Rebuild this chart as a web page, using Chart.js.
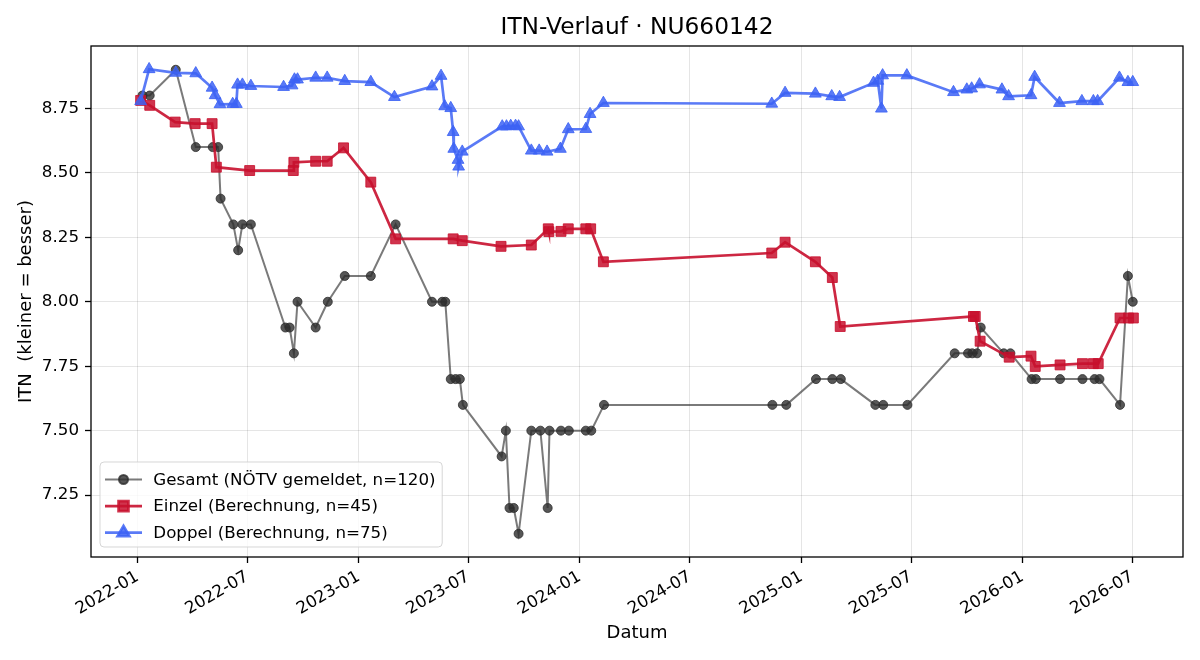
<!DOCTYPE html>
<html lang="de">
<head>
<meta charset="utf-8">
<title>ITN-Verlauf</title>
<script src="https://cdn.jsdelivr.net/npm/chart.js@4.4.1/dist/chart.umd.min.js"></script>
<style>
  html, body { margin: 0; padding: 0; background: #fff; }
  #wrap { width: 1200px; height: 660px; }
</style>
</head>
<body>
<div id="wrap"><canvas id="grafico" width="1200" height="660"></canvas></div>
<script>
// Werte
const gesamtDatum = ['2022-01-09','2022-01-21','2022-03-05','2022-04-07','2022-05-05','2022-05-14','2022-05-18','2022-06-08','2022-06-16','2022-06-23','2022-07-07','2022-09-02','2022-09-09','2022-09-16','2022-09-22','2022-10-22','2022-11-11','2022-12-09','2023-01-21','2023-03-03','2023-05-02','2023-05-19','2023-05-24','2023-06-02','2023-06-10','2023-06-17','2023-06-22','2023-08-25','2023-09-01','2023-09-07','2023-09-14','2023-09-22','2023-10-13','2023-10-28','2023-11-09','2023-11-12','2023-12-01','2023-12-14','2024-01-11','2024-01-20','2024-02-10','2024-11-14','2024-12-07','2025-01-25','2025-02-21','2025-03-07','2025-05-03','2025-05-16','2025-06-25','2025-09-11','2025-10-03','2025-10-10','2025-10-18','2025-10-24','2025-12-01','2025-12-12','2026-01-16','2026-01-23','2026-03-04','2026-04-10','2026-04-30','2026-05-08','2026-06-11','2026-06-24','2026-07-02'];
const gesamtITN = [8.8,8.8,8.9,8.6,8.6,8.6,8.4,8.3,8.2,8.3,8.3,7.9,7.9,7.8,8.0,7.9,8.0,8.1,8.1,8.3,8.0,8.0,8.0,7.7,7.7,7.7,7.6,7.4,7.5,7.2,7.2,7.1,7.5,7.5,7.2,7.5,7.5,7.5,7.5,7.5,7.6,7.6,7.6,7.7,7.7,7.7,7.6,7.6,7.6,7.8,7.8,7.8,7.8,7.9,7.8,7.8,7.7,7.7,7.7,7.7,7.7,7.7,7.6,8.1,8.0];

const einzelDatum = ['2022-01-06','2022-01-21','2022-03-04','2022-04-06','2022-05-04','2022-05-11','2022-07-05','2022-09-15','2022-09-16','2022-10-22','2022-11-10','2022-12-07','2023-01-21','2023-03-03','2023-06-06','2023-06-21','2023-08-24','2023-10-13','2023-11-10','2023-11-11','2023-12-01','2023-12-13','2024-01-11','2024-01-19','2024-02-09','2024-11-13','2024-12-05','2025-01-24','2025-02-21','2025-03-06','2025-10-12','2025-10-15','2025-10-23','2025-12-10','2026-01-15','2026-01-22','2026-03-04','2026-04-10','2026-04-28','2026-05-06','2026-06-11','2026-06-25','2026-07-03'];
const einzelITN = [8.781,8.762,8.697,8.691,8.691,8.522,8.509,8.509,8.541,8.545,8.545,8.597,8.464,8.244,8.244,8.237,8.215,8.220,8.283,8.272,8.273,8.283,8.283,8.283,8.155,8.189,8.231,8.155,8.094,7.904,7.943,7.943,7.847,7.785,7.789,7.749,7.755,7.760,7.760,7.760,7.937,7.937,7.937];

const doppelDatum = ['2022-01-06','2022-01-20','2022-03-05','2022-04-07','2022-05-04','2022-05-09','2022-05-17','2022-06-07','2022-06-13','2022-06-15','2022-06-23','2022-07-07','2022-08-30','2022-09-13','2022-09-17','2022-09-22','2022-10-22','2022-11-10','2022-12-09','2023-01-21','2023-03-01','2023-05-02','2023-05-17','2023-05-23','2023-06-02','2023-06-06','2023-06-07','2023-06-14','2023-06-15','2023-06-21','2023-08-26','2023-09-02','2023-09-09','2023-09-17','2023-09-22','2023-10-13','2023-10-26','2023-11-08','2023-11-30','2023-12-13','2024-01-11','2024-01-18','2024-02-09','2024-11-13','2024-12-05','2025-01-24','2025-02-20','2025-03-05','2025-04-30','2025-05-07','2025-05-13','2025-05-15','2025-06-24','2025-09-09','2025-10-01','2025-10-09','2025-10-22','2025-11-28','2025-12-09','2026-01-15','2026-01-21','2026-03-03','2026-04-09','2026-04-28','2026-05-05','2026-06-10','2026-06-24','2026-07-02'];
const doppelITN = [8.778,8.902,8.888,8.886,8.830,8.801,8.766,8.767,8.767,8.842,8.842,8.837,8.833,8.839,8.862,8.862,8.869,8.869,8.856,8.852,8.794,8.835,8.876,8.758,8.751,8.658,8.593,8.550,8.524,8.582,8.680,8.680,8.682,8.682,8.680,8.586,8.586,8.582,8.593,8.669,8.670,8.728,8.771,8.768,8.810,8.807,8.797,8.794,8.849,8.857,8.749,8.878,8.878,8.813,8.823,8.827,8.843,8.823,8.797,8.801,8.872,8.771,8.778,8.778,8.778,8.869,8.852,8.852];

const xTickDaten = ['2022-01-01','2022-07-01','2023-01-01','2023-07-01','2024-01-01','2024-07-01','2025-01-01','2025-07-01','2026-01-01','2026-07-01'];
const yTicks = [7.25, 7.50, 7.75, 8.00, 8.25, 8.50, 8.75];

const titel = 'ITN-Verlauf · NU660142';
const schrift = 'DejaVu Sans';

function punkte(daten, werte) {
  return daten.map((d, i) => ({ x: Date.parse(d), y: werte[i] }));
}

// Achsenbereich wie matplotlib: 5% Rand
const alleX = [...gesamtDatum, ...einzelDatum, ...doppelDatum].map(d => Date.parse(d));
const alleY = [...gesamtITN, ...einzelITN, ...doppelITN];
const xMin = Math.min(...alleX), xMax = Math.max(...alleX);
const yMin = Math.min(...alleY), yMax = Math.max(...alleY);
const xRand = (xMax - xMin) * 0.05, yRand = (yMax - yMin) * 0.05;

// Titel mittig über der Zeichenfläche
const titelPlugin = {
  id: 'titelPlugin',
  afterDraw(chart) {
    const ctx = chart.ctx;
    const ca = chart.chartArea;
    ctx.save();
    ctx.font = '23.3px ' + schrift;
    ctx.fillStyle = '#000';
    ctx.textAlign = 'center';
    ctx.textBaseline = 'middle';
    ctx.fillText(titel, (ca.left + ca.right) / 2, 28);
    ctx.restore();
  }
};

// Legende innerhalb der Grafik unten links
const legendeImDiagramm = {
  id: 'legendeImDiagramm',
  afterDraw(chart) {
    const ctx = chart.ctx;
    const ca = chart.chartArea;
    const sets = chart.data.datasets;
    ctx.save();
    ctx.font = '16.7px ' + schrift;
    let breite = 0;
    sets.forEach(s => { breite = Math.max(breite, ctx.measureText(s.label).width); });
    const bx = ca.left + 9, hoehe = 85;
    const by = ca.bottom - 10 - hoehe;
    const bw = 53 + breite + 7;
    ctx.beginPath();
    ctx.roundRect(bx, by, bw, hoehe, 4);
    ctx.fillStyle = 'rgba(255,255,255,0.8)';
    ctx.fill();
    ctx.strokeStyle = 'rgba(204,204,204,0.8)';
    ctx.lineWidth = 1;
    ctx.stroke();
    sets.forEach((s, i) => {
      const y = by + 17.5 + i * 26.6;
      ctx.beginPath();
      ctx.moveTo(bx + 5, y);
      ctx.lineTo(bx + 42, y);
      ctx.strokeStyle = s.borderColor;
      ctx.lineWidth = s.borderWidth;
      ctx.stroke();
      ctx.fillStyle = s.pointBackgroundColor;
      ctx.strokeStyle = s.pointBorderColor;
      Chart.helpers.drawPoint(ctx, { pointStyle: s.pointStyle, radius: s.pointRadius, rotation: 0, borderWidth: s.pointBorderWidth }, bx + 23.5, y);
      ctx.fillStyle = '#000';
      ctx.textBaseline = 'middle';
      ctx.textAlign = 'left';
      ctx.fillText(s.label, bx + 53.3, y + 1);
    });
    ctx.restore();
  }
};

// Rahmen um die Zeichenfläche
const rahmen = {
  id: 'rahmen',
  afterDatasetsDraw(chart) {
    const ca = chart.chartArea;
    const ctx = chart.ctx;
    ctx.save();
    ctx.strokeStyle = '#000';
    ctx.lineWidth = 1.3;
    ctx.strokeRect(ca.left, ca.top, ca.right - ca.left, ca.bottom - ca.top);
    ctx.restore();
  }
};

const data = {
  datasets: [{
    label: 'Gesamt (NÖTV gemeldet, n=120)',
    data: punkte(gesamtDatum, gesamtITN),
    borderColor: 'rgba(51,51,51,0.65)',
    borderWidth: 2,
    pointStyle: 'circle',
    pointRadius: 4.5,
    pointBackgroundColor: 'rgba(45,45,45,0.8)',
    pointBorderColor: 'rgba(45,45,45,0.8)',
    pointBorderWidth: 1,
    order: 2
  }, {
    label: 'Einzel (Berechnung, n=45)',
    data: punkte(einzelDatum, einzelITN),
    borderColor: 'rgba(200,16,46,0.9)',
    borderWidth: 2.7,
    pointStyle: 'rect',
    pointRadius: 7,
    pointBackgroundColor: 'rgba(200,16,46,0.85)',
    pointBorderColor: 'rgba(200,16,46,0.85)',
    pointBorderWidth: 1,
    order: 1
  }, {
    label: 'Doppel (Berechnung, n=75)',
    data: punkte(doppelDatum, doppelITN),
    borderColor: 'rgba(61,99,245,0.85)',
    borderWidth: 2.7,
    pointStyle: 'triangle',
    pointRadius: 6.8,
    pointBackgroundColor: 'rgba(61,99,245,0.85)',
    pointBorderColor: 'rgba(61,99,245,0.85)',
    pointBorderWidth: 1,
    order: 0
  }]
};

const config = {
  type: 'line',
  data: data,
  options: {
    responsive: false,
    animation: false,
    events: [],
    layout: { padding: { left: 0, right: 17, top: 46, bottom: 0 } },
    plugins: {
      legend: { display: false },
      tooltip: { enabled: false },
      title: { display: false }
    },
    elements: { line: { tension: 0 } },
    scales: {
      x: {
        type: 'linear',
        min: xMin - xRand,
        max: xMax + xRand,
        afterBuildTicks: (scale) => { scale.ticks = xTickDaten.map(d => ({ value: Date.parse(d) })); },
        afterFit: (scale) => { scale.height = 103; },
        ticks: {
          color: '#000',
          font: { family: schrift, size: 16.7 },
          minRotation: 30,
          maxRotation: 30,
          padding: 4,
          callback: (v) => new Date(v).toISOString().slice(0, 7)
        },
        grid: { color: 'rgba(0,0,0,0.1)', tickColor: '#000', tickLength: 6, tickWidth: 1.3 },
        border: { display: false },
        title: {
          display: true,
          text: 'Datum',
          color: '#000',
          font: { family: schrift, size: 18 },
          padding: { top: 0, bottom: 16 }
        }
      },
      y: {
        type: 'linear',
        min: yMin - yRand,
        max: yMax + yRand,
        afterBuildTicks: (scale) => { scale.ticks = yTicks.map(v => ({ value: v })); },
        afterFit: (scale) => { scale.width = 91; },
        ticks: {
          color: '#000',
          font: { family: schrift, size: 16.7 },
          padding: 6,
          callback: (v) => Number(v).toFixed(2)
        },
        grid: { color: 'rgba(0,0,0,0.1)', tickColor: '#000', tickLength: 6, tickWidth: 1.3 },
        border: { display: false },
        title: {
          display: true,
          text: 'ITN  (kleiner = besser)',
          color: '#000',
          font: { family: schrift, size: 18 },
          padding: { top: 16, bottom: 0 }
        }
      }
    }
  },
  plugins: [rahmen, legendeImDiagramm, titelPlugin]
};

const grafico = new Chart(document.getElementById('grafico'), config);
</script>
</body>
</html>
